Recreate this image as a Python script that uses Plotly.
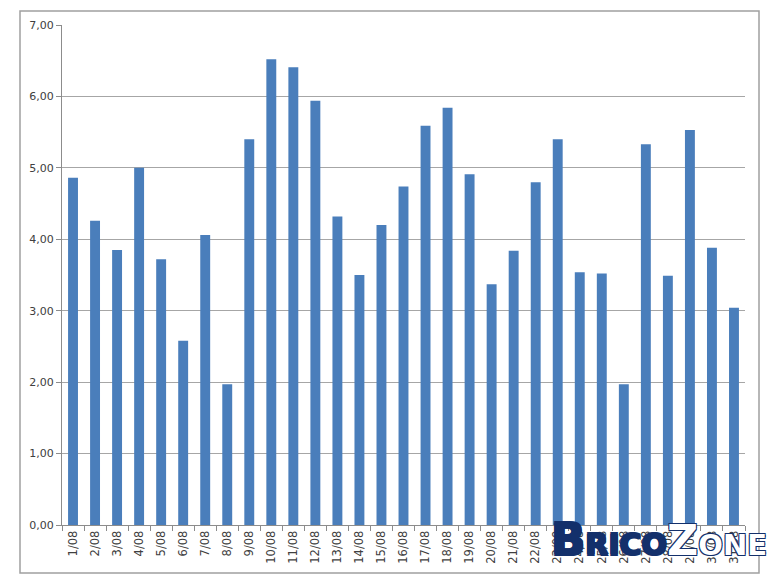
import plotly.graph_objects as go

days = [f"{d}/08" for d in range(1, 32)]
values = [4.86, 4.26, 3.85, 5.00, 3.72, 2.58, 4.06, 1.97, 5.40, 6.52,
          6.41, 5.94, 4.32, 3.50, 4.20, 4.74, 5.59, 5.84, 4.91, 3.37,
          3.84, 4.80, 5.40, 3.54, 3.52, 1.97, 5.33, 3.49, 5.53, 3.88, 3.04]

W, H = 780, 585
L, R, T, B = 62, 35, 25, 60
pw, ph = W - L - R, H - T - B

def px_x(x):
    return (x - L) / pw

def px_y(y):
    return (H - B - y) / ph

fig = go.Figure(go.Bar(x=days, y=values, marker=dict(color="#4a7ebb", line=dict(width=0))))

fig.update_layout(
    width=W, height=H,
    margin=dict(l=L, r=R, t=T, b=B),
    paper_bgcolor="white", plot_bgcolor="white",
    separators=", ",
    bargap=0.55,
    showlegend=False,
    font=dict(family="DejaVu Sans", size=11, color="#404040"),
)
fig.update_yaxes(
    range=[0, 7], dtick=1, tickformat=".2f",
    showgrid=True, gridcolor="#a6a6a6", gridwidth=1,
    showline=True, linecolor="#8c8c8c", linewidth=1,
    ticks="outside", ticklen=5, tickcolor="#8c8c8c",
    zeroline=False, tickfont=dict(size=11, color="#404040"),
)
fig.update_xaxes(
    type="category", tickangle=-90,
    showline=True, linecolor="#8c8c8c", linewidth=1,
    ticks="outside", ticklen=5, tickcolor="#8c8c8c", tickson="boundaries",
    showgrid=False, tickfont=dict(size=11.5, color="#404040"),
)

# outer chart border
fig.add_shape(type="rect", xref="paper", yref="paper",
              x0=px_x(20), x1=px_x(759), y0=px_y(573), y1=px_y(11),
              line=dict(color="#a0a0a0", width=1.5), fillcolor="rgba(0,0,0,0)", layer="below")

# watermark
fig.add_annotation(
    xref="paper", yref="paper", x=px_x(549), y=px_y(568),
    xanchor="left", yanchor="bottom", showarrow=False,
    text='<b><span style="font-size:45px">B</span><span style="font-size:30px">RICO</span>'
         '<span style="color:white"><span style="font-size:43px">Z</span><span style="font-size:29px">ONE</span></span></b>',
    font=dict(family="DejaVu Sans", size=30, color="#13306b",
              shadow="1px 1px 0 #13306b, -1px -1px 0 #13306b, 1px -1px 0 #13306b, -1px 1px 0 #13306b"),
)

fig.write_html("out.html")
